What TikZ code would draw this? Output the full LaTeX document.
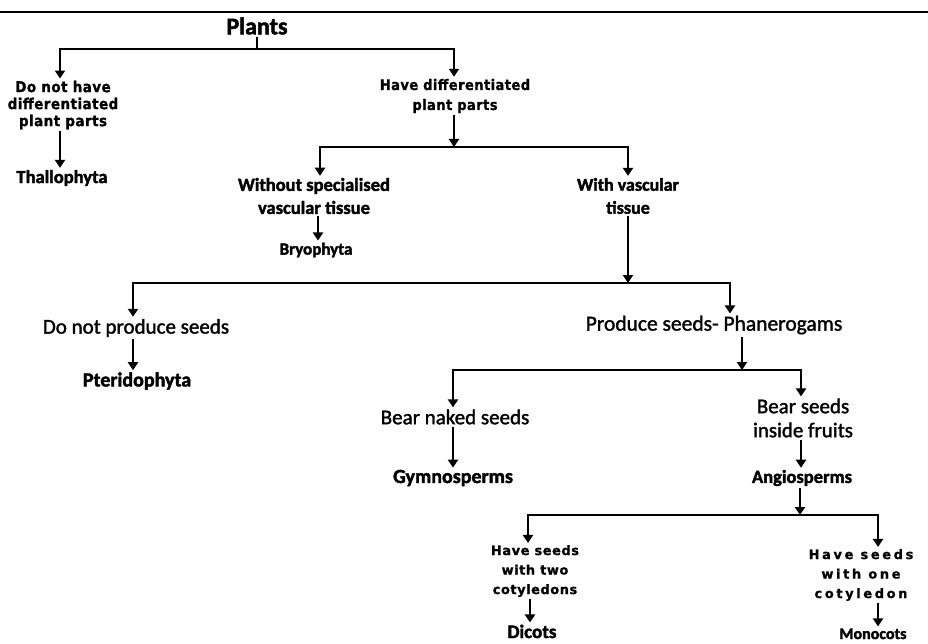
\documentclass[tikz,border=0pt]{standalone}
\usepackage{fontspec}
\setmainfont{Carlito}[BoldFeatures={FakeBold=2}]
\newfontfamily\creg{Carlito}[FakeBold=1.6]
\newfontfamily\vfont{DejaVu Sans Condensed}[LetterSpace=3,BoldFeatures={FakeBold=1}]
\newfontfamily\vwide{DejaVu Sans}[LetterSpace=20,BoldFeatures={FakeBold=1}]
\newfontfamily\vmid{DejaVu Sans}[LetterSpace=4,BoldFeatures={FakeBold=1}]
\usetikzlibrary{arrows.meta,calc}
\begin{document}
\begin{tikzpicture}[x=1pt,y=-1pt,
  every node/.style={inner sep=2pt, align=center, text=black},
  lnk/.style={line width=2.6pt, draw=black},
  arr/.style={lnk, -{Triangle[width=10pt,length=8pt]}},
  cb/.style={font=\bfseries\fontsize{#1}{#1}\selectfont},
  cr/.style={font=\creg\fontsize{#1}{#1}\selectfont},
  vb/.style={font=\vfont\bfseries\fontsize{15}{17}\selectfont},
]
\useasboundingbox (0,0) rectangle (928,644);
\draw[line width=1.2pt] (0,12) -- (928,12);

\node[cb=24] (plants) at (257,26) {Plants};
\node[vb] (dnh) at (63,105) {Do not have\\differentiated\\plant parts};
\node[cb=18.5] (thallo) at (62,178) {Thallophyta};
\node[font=\vfont\bfseries\fontsize{14.5}{20}\selectfont] (hd) at (455,96) {Have differentiated\\plant parts};
\node[font=\bfseries\fontsize{18.5}{23}\selectfont] (ws) at (314,196) {Without specialised\\vascular tissue};
\node[cb=17] (bryo) at (316,250) {Bryophyta};
\node[font=\bfseries\fontsize{18}{23}\selectfont] (wv) at (628,196) {With vascular\\tissue};
\node[cr=21] (dnps) at (136,328) {Do not produce seeds};
\node[cb=20] (pter) at (137,381) {Pteridophyta};
\node[cr=21.5] (ps) at (714,325) {Produce seeds- Phanerogams};
\node[cr=21] (bns) at (455,417) {Bear naked seeds};
\node[cb=20] (gymno) at (453,478) {Gymnosperms};
\node[font=\creg\fontsize{21}{24}\selectfont] (bsf) at (803,418) {Bear seeds\\inside fruits};
\node[cb=18.5] (angio) at (802,478) {Angiosperms};
\node[font=\vmid\bfseries\fontsize{13}{19.5}\selectfont] (two) at (535,571) {Have seeds\\with two\\cotyledons};
\node[cb=19, anchor=base] (dicots) at (532,638) {Dicots};
\node[font=\vwide\bfseries\fontsize{13}{19.5}\selectfont] (one) at (861,575) {Have seeds\\with one\\cotyledon};
\node[cb=16, anchor=base] (mono) at (873,639) {Monocots};

\coordinate (j0) at (257,49);
\coordinate (j1) at (454,147);
\coordinate (j2) at (628,283);
\coordinate (j3) at (742,370);
\coordinate (j4) at (800,515);

\draw[lnk] (plants.south) -- (j0);
\draw[arr] (j0) -| ([xshift=-3pt]dnh.north);
\draw[arr] (j0) -| ([xshift=-1pt]hd.north);
\draw[arr] ([xshift=-3pt]dnh.south) -- ([xshift=-2pt]thallo.north);
\draw[arr] ([xshift=-1pt]hd.south) -- (j1);
\draw[arr] (j1) -| ([xshift=6pt]ws.north);
\draw[arr] (j1) -| (wv.north);
\draw[arr] ([xshift=4pt]ws.south) -- ([xshift=2pt]bryo.north);
\draw[arr] (wv.south) -- (j2);
\draw[arr] (j2) -| ([xshift=-3pt]dnps.north);
\draw[arr] (j2) -| ([xshift=16pt]ps.north);
\draw[arr] ([xshift=-3pt]dnps.south) -- ([xshift=-4pt]pter.north);
\draw[arr] ([xshift=28pt]ps.south) -- (j3);
\draw[arr] (j3) -| ([xshift=-2pt]bns.north);
\draw[arr] (j3) -| ([xshift=-2pt]bsf.north);
\draw[arr] ([xshift=-2pt]bns.south) -- (gymno.north);
\draw[arr] ([xshift=-2pt]bsf.south) -- ([xshift=-1pt]angio.north);
\draw[arr] ([xshift=-2pt]angio.south) -- (j4);
\draw[arr] (j4) -| ([xshift=-7pt]two.north);
\draw[arr] (j4) -| ([xshift=17pt]one.north);
\draw[arr] ([xshift=-5pt]two.south) -- ([xshift=-2pt]dicots.north);
\draw[arr] ([xshift=17pt]one.south) -- ([xshift=5pt]mono.north);
\end{tikzpicture}
\end{document}
